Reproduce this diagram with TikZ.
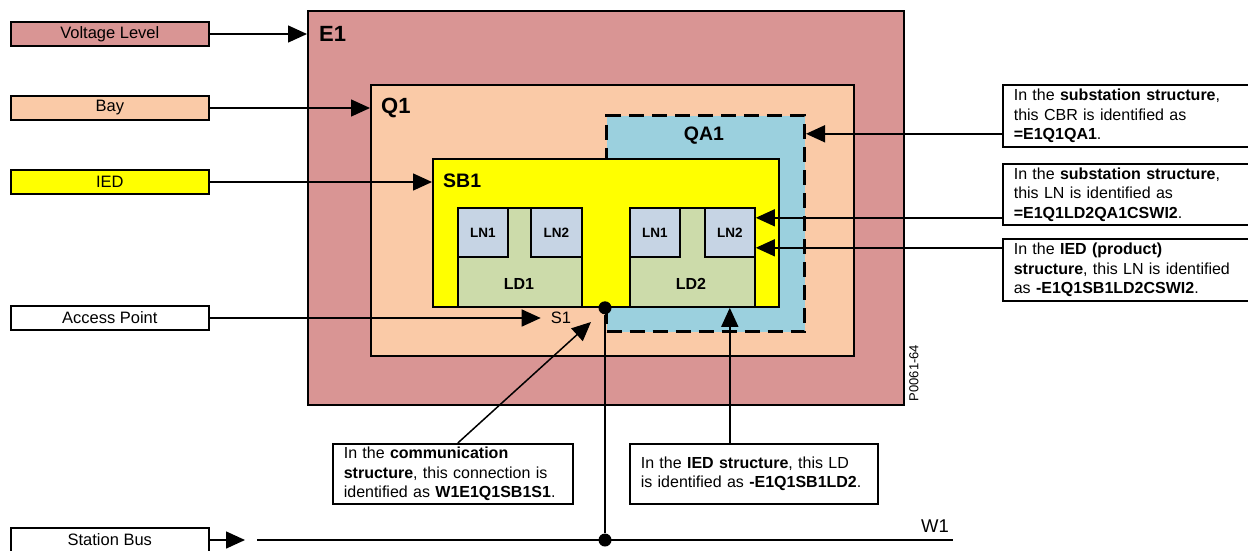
\documentclass[tikz,border=0pt]{standalone}
\usepackage{fontspec}
\setmainfont{Liberation Sans}
\usetikzlibrary{positioning,arrows.meta,calc}
\definecolor{volt}{HTML}{D99594}
\definecolor{bay}{HTML}{FACAA7}
\definecolor{ied}{HTML}{FFFF00}
\definecolor{cbr}{HTML}{9BD0DE}
\definecolor{ldev}{HTML}{CCDBAA}
\definecolor{lnode}{HTML}{C6D4E4}

\begin{document}
\begin{tikzpicture}[x=1pt,y=-1pt,
  tag/.style={draw,line width=1.6pt,minimum width=198pt,minimum height=24pt,inner sep=0pt,anchor=west,font=\fontsize{16.5}{19}\selectfont},
  area/.style={draw,line width=1.8pt,anchor=north west,inner sep=0pt},
  hd/.style={anchor=west,inner sep=0pt,font=\fontsize{22}{24}\selectfont\bfseries},
  ldbox/.style={area,fill=ldev,minimum height=99pt},
  lnbox/.style={area,fill=lnode,minimum width=50pt,minimum height=49pt,font=\fontsize{13.5}{15}\selectfont\bfseries},
  note/.style={draw,line width=1.6pt,fill=white,anchor=north west,align=left,text width=#1,inner xsep=11pt,inner ysep=0pt,font=\fontsize{16}{19.5}\selectfont},
  arr/.style={-{Triangle[length=19pt,width=17pt]},line width=1.5pt},
  dot/.style={circle,fill,inner sep=0pt,minimum size=13pt}]
  \useasboundingbox (0,0) rectangle (1248,550);

  % nested structure
  \node[area,fill=volt,minimum width=596pt,minimum height=394pt] (e1) at (307,10){};
  \node[area,fill=bay,minimum width=483pt,minimum height=271pt] (q1) at (370,84){};
  \node[area,fill=cbr,line width=3pt,dash pattern=on 15pt off 8pt,minimum width=198pt,minimum height=216pt] (qa1) at (605,114){};
  \node[area,fill=ied,minimum width=346pt,minimum height=148pt] (sb1) at (432,158){};
  \node[ldbox,minimum width=124pt] (ld1) at (457,207){};
  \node[ldbox,minimum width=125pt] (ld2) at (629,207){};
  \node[lnbox] (ln11) at (457,207){LN1};
  \node[lnbox,minimum width=51pt] (ln12) at (530,207){LN2};
  \node[lnbox] (ln21) at (629,207){LN1};
  \node[lnbox] (ln22) at (704,207){LN2};
  \node[font=\fontsize{16}{18}\selectfont\bfseries] (ld1t) at (519,284){LD1};
  \node[font=\fontsize{16}{18}\selectfont\bfseries] (ld2t) at (691,284){LD2};

  \node[hd] (e1t) at (319,34){E1};
  \node[hd] (q1t) at (381,108){Q1};
  \node[hd,font=\fontsize{19.5}{22}\selectfont\bfseries] (sb1t) at (443,181){SB1};
  \node[hd,anchor=center,font=\fontsize{19.5}{22}\selectfont\bfseries] (qa1t) at (704,136){QA1};
  \node[inner sep=0pt,font=\fontsize{16.5}{19}\selectfont] (s1) at (561,318){S1};

  % legend on the left
  \node[tag,fill=volt] (vl) at (10,34){Voltage Level};
  \node[tag,fill=bay] (bay) at (10,108){Bay};
  \node[tag,fill=ied] (ied) at (10,182){IED};
  \node[tag,fill=white] (ap) at (10,318){Access Point};
  \node[tag,fill=white] (sbus) at (10,540){Station Bus};

  \draw[arr] (vl.east) -- (e1.west |- vl.east);
  \draw[arr] (bay.east) -- (q1.west |- bay.east);
  \draw[arr] (ied.east) -- (sb1.west |- ied.east);
  \draw[arr] (ap.east) -- ([xshift=-10pt]s1.west);

  % station bus
  \coordinate (bustip) at (245,540);
  \coordinate (busl) at (257,540);
  \coordinate (busr) at (953,540);
  \draw[arr] (sbus.east) -- (bustip);
  \draw[line width=1.8pt] (busl) -- (busr);
  \node[dot] (apd) at (sb1.south -| qa1.west){};
  \node[dot] (busd) at (apd |- busl){};
  \draw[line width=1.8pt] (apd) -- (busd);
  \node[inner sep=0pt,font=\fontsize{18.5}{20}\selectfont] (w1) at (935,526){W1};
  \node[rotate=90,inner sep=0pt,font=\fontsize{13}{15}\selectfont] (pid) at (914,373){P0061-64};

  % explanations
  \node[note=224pt,minimum height=62pt] (ncbr) at (1002,84){In the \textbf{substation structure},\\this CBR is identified as\\\textbf{=E1Q1QA1}.};
  \node[note=224pt,minimum height=61pt] (nln) at (1002,163){In the \textbf{substation structure},\\this LN is identified as\\\textbf{=E1Q1LD2QA1CSWI2}.};
  \node[note=224pt,minimum height=62pt] (nprod) at (1002,238){In the \textbf{IED (product)}\\\textbf{structure}, this LN is identified\\as \textbf{-E1Q1SB1LD2CSWI2}.};
  \node[note=218pt,minimum height=60pt] (ncomm) at (332,443){In the \textbf{communication}\\\textbf{structure}, this connection is\\identified as \textbf{W1E1Q1SB1S1}.};
  \node[note=226pt,minimum height=60pt] (nld) at (629,443){In the \textbf{IED structure}, this LD\\is identified as \textbf{-E1Q1SB1LD2}.};

  \coordinate (acc) at (591,322);
  \coordinate (pcbr) at ([yshift=-18pt]ncbr.west);
  \coordinate (pln) at ([yshift=-23.5pt]nln.west);
  \coordinate (pprod) at ([yshift=22pt]nprod.west);
  \coordinate (pld) at ([xshift=-24pt]nld.north);
  \draw[arr] (pcbr) -- (qa1.east |- pcbr);
  \draw[arr] (pln) -- (ln22.east |- pln);
  \draw[arr] (pprod) -- (ln22.east |- pprod);
  \draw[arr] ([xshift=5pt]ncomm.north) -- (acc);
  \draw[arr] (pld) -- (ld2.south -| pld);
\end{tikzpicture}
\end{document}
